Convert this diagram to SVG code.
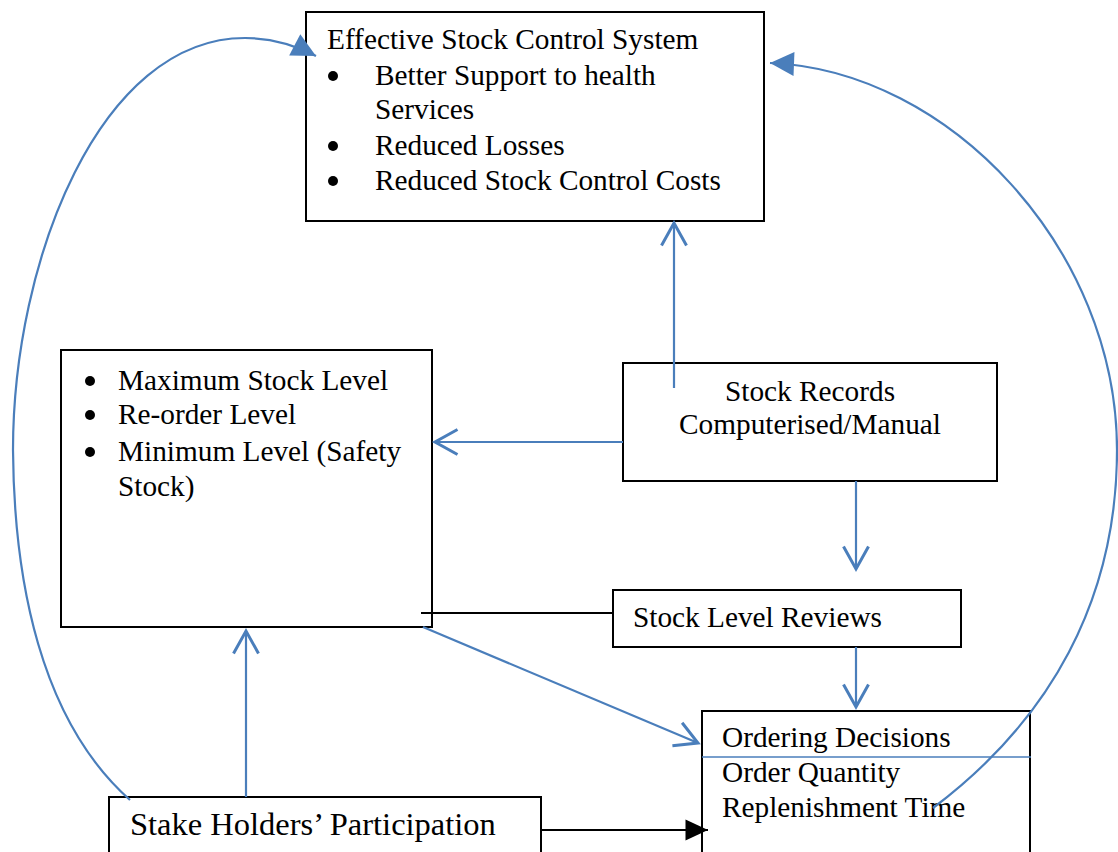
<svg xmlns="http://www.w3.org/2000/svg" width="1118" height="852" viewBox="0 0 1118 852">
<style>
.box{fill:#fff;stroke:#000;stroke-width:2}
.t{font-family:"Liberation Serif","Times New Roman",serif;font-size:29.3px;fill:#000}
.bul{fill:#000}
.blue{fill:none;stroke:#4a7ebb;stroke-width:2.2}
.blk{fill:none;stroke:#000;stroke-width:2}
</style>
<defs>
<marker id="open" markerUnits="userSpaceOnUse" markerWidth="30" markerHeight="30" viewBox="-20 -12 24 24" refX="0" refY="0" orient="auto">
<path d="M-18,-10 L0,0 L-18,10" fill="none" stroke="#4a7ebb" stroke-width="2.4"/>
</marker>
<marker id="fillb" markerUnits="userSpaceOnUse" markerWidth="30" markerHeight="30" viewBox="-18 -10 20 20" refX="0" refY="0" orient="auto">
<path d="M-16,-8 L0,0 L-16,8 Z" fill="#4a7ebb"/>
</marker>
<marker id="fillk" markerUnits="userSpaceOnUse" markerWidth="30" markerHeight="30" viewBox="-18 -10 20 20" refX="0" refY="0" orient="auto">
<path d="M-15,-7 L0,0 L-15,7 Z" fill="#000"/>
</marker>
</defs>
<rect width="1118" height="852" fill="#fff"/>

<g id="effective">
<rect class="box" x="306" y="12" width="458" height="209"/>
<text class="t" x="327" y="49">Effective Stock Control System</text>
<circle class="bul" cx="333" cy="76" r="5"/>
<text class="t" x="375" y="85">Better Support to health</text>
<text class="t" x="375" y="119">Services</text>
<circle class="bul" cx="333" cy="146" r="5"/>
<text class="t" x="375" y="155">Reduced Losses</text>
<circle class="bul" cx="333" cy="181" r="5"/>
<text class="t" x="375" y="190">Reduced Stock Control Costs</text>
</g>

<g id="levels">
<rect class="box" x="61" y="350" width="371" height="277"/>
<circle class="bul" cx="90" cy="381" r="5"/>
<text class="t" x="118" y="390">Maximum Stock Level</text>
<circle class="bul" cx="90" cy="415" r="5"/>
<text class="t" x="118" y="424">Re-order Level</text>
<circle class="bul" cx="90" cy="452" r="5"/>
<text class="t" x="118" y="461">Minimum Level (Safety</text>
<text class="t" x="118" y="496">Stock)</text>
</g>

<g id="records">
<rect class="box" x="623" y="363" width="374" height="118"/>
<text class="t" x="810" y="401" text-anchor="middle">Stock Records</text>
<text class="t" x="810" y="434" text-anchor="middle">Computerised/Manual</text>
</g>

<g id="reviews">
<rect class="box" x="613" y="590" width="348" height="57"/>
<text class="t" x="633" y="627">Stock Level Reviews</text>
</g>

<g id="ordering">
<rect class="box" x="702" y="711" width="328" height="160"/>
<text class="t" x="722" y="747">Ordering Decisions</text>
<text class="t" x="722" y="782">Order Quantity</text>
<text class="t" x="722" y="817">Replenishment Time</text>
</g>

<g id="stakeholders">
<rect class="box" x="109" y="797" width="432" height="80"/>
<text class="t" x="130" y="835" style="font-size:32.5px">Stake Holders’ Participation</text>
</g>

<g id="connectors">
<line class="blue" x1="674" y1="388" x2="674" y2="223" marker-end="url(#open)"/>
<line class="blue" x1="623" y1="442" x2="435" y2="442" marker-end="url(#open)"/>
<line class="blue" x1="856" y1="481" x2="856" y2="569" marker-end="url(#open)"/>
<line class="blue" x1="856" y1="647" x2="856" y2="707" marker-end="url(#open)"/>
<line class="blue" x1="246" y1="797" x2="246" y2="631" marker-end="url(#open)"/>
<line class="blue" x1="423" y1="627" x2="698" y2="743" marker-end="url(#open)"/>
<line class="blk" x1="421" y1="613" x2="613" y2="613"/>
<line class="blk" x1="541" y1="830" x2="708" y2="830" marker-end="url(#fillk)"/>
<line x1="702" y1="757" x2="1031" y2="757" stroke="#4a7ebb" stroke-width="1.6"/>
<path class="blue" d="M130,800 C40,720 14,580 13,450 C13,260 100,38 245,38 C270,38 295,45 316,56" marker-end="url(#fillb)"/>
<path class="blue" d="M933,808 C1050,720 1117,600 1117,450 C1117,250 950,70 770,63" marker-end="url(#fillb)"/>
</g>
</svg>
